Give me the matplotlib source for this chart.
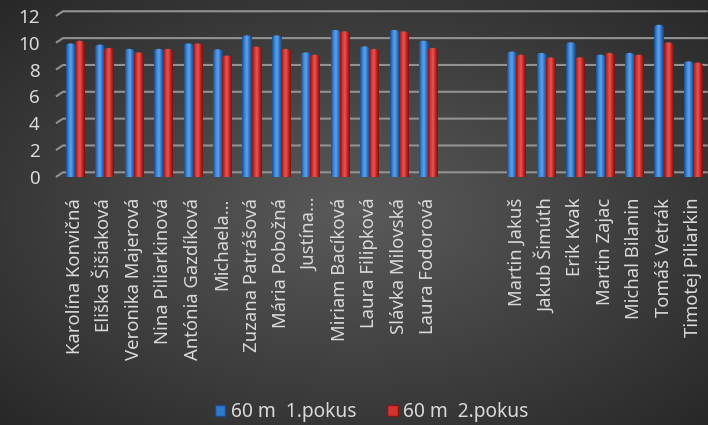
import numpy as np
import matplotlib
matplotlib.use("Agg")
import matplotlib.pyplot as plt
from matplotlib.colors import LinearSegmentedColormap
from matplotlib.patches import Ellipse, Patch

# data
names = [
    "Karolína Konvičná", "Eliška Šišiaková", "Veronika Majerová", "Nina Piliarkinová",
    "Antónia Gazdíková", "Michaela…", "Zuzana Patrášová", "Mária Pobožná", "Justína…",
    "Miriam Bacíková", "Laura Filipková", "Slávka Milovská", "Laura Fodorová",
    "", "",
    "Martin Jakuš", "Jakub Šimúth", "Erik Kvak", "Martin Zajac", "Michal Bilanin",
    "Tomáš Vetrák", "Timotej Piliarkin",
]
pokus1 = [9.96, 9.87, 9.55, 9.55, 9.96, 9.52, 10.56, 10.56, 9.29, 10.96, 9.74, 10.96, 10.16,
          None, None,
          9.35, 9.25, 10.04, 9.12, 9.25, 11.35, 8.62]
pokus2 = [10.16, 9.62, 9.29, 9.55, 9.96, 9.05, 9.72, 9.55, 9.12, 10.86, 9.55, 10.86, 9.62,
          None, None,
          9.12, 8.92, 8.92, 9.25, 9.12, 10.04, 8.53]
series_labels = ["60 m  1.pokus", "60 m  2.pokus"]

txt = "#d9d9d9"
plt.rcParams['font.family'] = ['Noto Sans', 'DejaVu Sans']

fig = plt.figure(figsize=(7.08, 4.25), dpi=100)

# radial dark background
bg = fig.add_axes([0, 0, 1, 1], zorder=-10)
yy, xx = np.mgrid[-1:1:300j, -1:1:500j]
r = np.sqrt(xx**2 + yy**2) / np.sqrt(2)
bg.imshow(r, cmap=LinearSegmentedColormap.from_list("bg", ["#5a5a5a", "#282828"]),
          extent=[0, 1, 0, 1], aspect="auto")
bg.axis("off")

ax = fig.add_axes([0.0852, 0.5835, 0.9144, 0.3947])
ax.set_facecolor("none")

# back wall grid lines with 3D corner
for v in range(0, 13, 2):
    ax.plot([-0.65, -0.41, len(names) - 0.5], [v, v + 0.35, v + 0.35],
            color="#929292", lw=1.5, clip_on=False, zorder=1, solid_capstyle="butt")

cm_blue = LinearSegmentedColormap.from_list(
    "b", ["#1c4a85", "#3a85d6", "#5ea2ee", "#2f6fbd", "#1a4278"])
cm_red = LinearSegmentedColormap.from_list(
    "r", ["#801818", "#d3332f", "#ec5550", "#b82724", "#701414"])
grad = np.linspace(0, 1, 64)[np.newaxis, :]

w = 0.31
cap = 0.3
x = np.arange(len(names))
for vals, off, cm in [(pokus1, -w / 2, cm_blue), (pokus2, w / 2, cm_red)]:
    hs = [v - cap / 2 if v is not None else 0 for v in vals]
    bars = ax.bar(x + off, hs, width=w, color="none", lw=0, zorder=3)
    for b, v in zip(bars, vals):
        if v is None:
            continue
        x0 = b.get_x()
        im = ax.imshow(grad, cmap=cm, extent=[x0, x0 + w, 0, v], aspect="auto", zorder=3)
        im.set_clip_path(b)
        e = Ellipse((x0 + w / 2, v - cap / 2), w, cap, facecolor="none", lw=0)
        ax.add_patch(e)
        im2 = ax.imshow(grad, cmap=cm, extent=[x0, x0 + w, 0, v], aspect="auto", zorder=3)
        im2.set_clip_path(e)

ax.set_xlim(-0.5, len(names) - 0.5)
ax.set_ylim(0, 12.5)
ax.set_yticks(range(0, 13, 2))
ax.set_xticks(x)
ax.set_xticklabels(names, rotation=90, fontsize=13.3, color=txt)
ax.tick_params(axis="y", length=0, pad=15, labelsize=13.5, labelcolor=txt)
ax.tick_params(axis="x", length=0, pad=15)
for s in ax.spines.values():
    s.set_visible(False)

handles = [Patch(facecolor="#2f78cc", edgecolor="#1c4a85"),
           Patch(facecolor="#d3332f", edgecolor="#801818")]
fig.legend(handles, series_labels, loc="center", bbox_to_anchor=(0.525, 0.03),
           ncol=2, frameon=False, fontsize=13.8, labelcolor=txt,
           handlelength=0.55, handleheight=0.55, handletextpad=0.3, columnspacing=1.6)

fig.savefig("out.png", dpi=100)
